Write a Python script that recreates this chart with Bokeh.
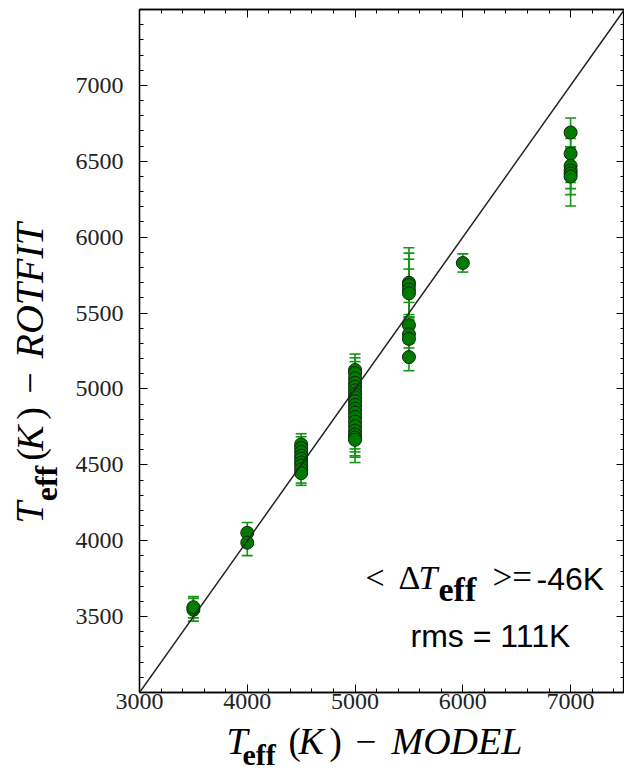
import math
from bokeh.plotting import figure
from bokeh.layouts import column, row
from bokeh.models import (ColumnDataSource, Whisker, TeeHead, Slope, Label,
                          FixedTicker, LinearAxis, Range1d)
from bokeh.embed import file_html
from bokeh.resources import INLINE

# ---------------- data ----------------
teff_model = [3500, 3500,
              4000, 4000,
              4500, 4500, 4500, 4500, 4500, 4500, 4500, 4500, 4500,
              5000, 5000, 5000, 5000, 5000, 5000, 5000, 5000, 5000, 5000,
              5000, 5000, 5000, 5000, 5000, 5000, 5000, 5000, 5000,
              5500, 5500, 5500, 5500, 5500, 5500, 5500, 5500,
              6000,
              7000, 7000, 7000, 7000, 7000, 7000]
teff_rotfit = [3545, 3562,
               4052, 3987,
               4635, 4610, 4585, 4560, 4540, 4515, 4495, 4470, 4445,
               5125, 5105, 5070, 5040, 5015, 4990, 4965, 4945, 4920, 4895,
               4870, 4845, 4815, 4785, 4755, 4725, 4700, 4680, 4665,
               5700, 5685, 5655, 5630, 5420, 5360, 5330, 5210,
               5830,
               6690, 6550, 6470, 6440, 6420, 6400]
teff_err = [75, 70,
            68, 85,
            70, 75, 70, 75, 70, 80, 70, 90, 80,
            105, 100, 110, 100, 120, 110, 120, 110, 130, 120,
            130, 120, 140, 130, 150, 140, 150, 120, 150,
            230, 210, 200, 160, 150, 130, 120, 90,
            60,
            95, 100, 110, 120, 140, 195]

x_major = [3000, 4000, 5000, 6000, 7000]
y_major = [3500, 4000, 4500, 5000, 5500, 6000, 6500, 7000]
x_minor = list(range(3000, 7501, 200))
y_minor = list(range(3000, 7501, 100))
x_lim = (3000, 7500)
y_lim = (3000, 7500)

# ---------------- layout (page pixels) ----------------
YLAB_W = 70          # width of the y-label strip
MAIN_W = 624 - YLAB_W
MAIN_H = 720
XLAB_H = 772 - MAIN_H
FRAME_L = 139        # frame left edge on the page
FRAME_T = 9
FRAME_B = 692        # frame bottom edge on the page

lower = [v - e for v, e in zip(teff_rotfit, teff_err)]
upper = [v + e for v, e in zip(teff_rotfit, teff_err)]
src = ColumnDataSource(dict(x=teff_model, y=teff_rotfit, lower=lower, upper=upper))

p = figure(width=MAIN_W, height=MAIN_H, output_backend="svg", toolbar_location=None,
           x_range=Range1d(*x_lim), y_range=Range1d(*y_lim),
           min_border_left=FRAME_L - YLAB_W, min_border_right=0,
           min_border_top=FRAME_T, min_border_bottom=MAIN_H - FRAME_B)
p.grid.visible = False
p.outline_line_color = "black"
p.outline_line_width = 1.3
p.background_fill_color = "white"
p.border_fill_color = "white"

xt = FixedTicker(ticks=x_major, minor_ticks=x_minor)
yt = FixedTicker(ticks=y_major, minor_ticks=y_minor)


def style_axis(ax, show_labels=True):
    ax.major_tick_in = 8
    ax.major_tick_out = 0
    ax.minor_tick_in = 4
    ax.minor_tick_out = 0
    ax.major_tick_line_color = "black"
    ax.minor_tick_line_color = "black"
    ax.axis_line_color = "black"
    ax.axis_line_width = 1.3
    if show_labels:
        ax.major_label_text_font = "Liberation Serif"
        ax.major_label_text_font_size = "24px"
        ax.major_label_text_color = "#222222"
    else:
        ax.major_label_standoff = 0
        ax.major_label_text_font_size = "0px"


p.xaxis.ticker = xt
p.yaxis.ticker = yt
style_axis(p.xaxis[0])
style_axis(p.yaxis[0])
p.xaxis.major_label_standoff = 1
p.yaxis.major_label_standoff = 16

top = LinearAxis(ticker=xt, major_label_overrides={t: "" for t in x_major})
right = LinearAxis(ticker=yt, major_label_overrides={t: "" for t in y_major})
style_axis(top, False)
style_axis(right, False)
p.add_layout(top, "above")
p.add_layout(right, "right")

whisk = Whisker(source=src, base="x", lower="lower", upper="upper",
                line_color="#159515", line_width=1.6,
                upper_head=TeeHead(size=11, line_color="#159515", line_width=1.6),
                lower_head=TeeHead(size=11, line_color="#159515", line_width=1.6))
p.add_layout(whisk)

p.scatter("x", "y", source=src, marker="circle", size=13,
          fill_color="#007a00", line_color="#0a2a0a", line_width=1)

p.add_layout(Slope(gradient=1, y_intercept=0, line_color="#222222", line_width=1.5))


def blank_fig(w, h):
    f = figure(width=w, height=h, output_backend="svg", toolbar_location=None,
               x_axis_type=None, y_axis_type=None, min_border=0,
               x_range=Range1d(0, 1), y_range=Range1d(0, 1), title=None)
    f.outline_line_color = None
    f.grid.visible = False
    f.background_fill_color = "white"
    f.border_fill_color = "white"
    return f


ylab = blank_fig(YLAB_W, MAIN_H)
xlab = blank_fig(624, XLAB_H)


def piece(fig, left, bottom, text, xw, yw, size, font="Liberation Serif",
          style="normal", rotated=False):
    """xw, yw: wanted page position of the text's baseline start."""
    if rotated:
        xw = xw - 0.4 * size
        yw = yw + 0.9 * size
        angle = math.pi / 2
    else:
        yw = yw - 0.37 * size
        angle = 0.0
    fig.add_layout(Label(x=xw - left, y=bottom - yw, x_units="screen",
                         y_units="screen", text=text, text_font=font,
                         text_font_size=f"{size}px", text_font_style=style,
                         angle=angle, text_baseline="alphabetic",
                         text_align="left", text_color="black"))


# x axis label: T_eff(K) - MODEL  (xlab fig spans page y MAIN_H..772)
XB = 772
bx = 755
piece(xlab, 0, XB, "T", 226, bx, 38, style="italic")
piece(xlab, 0, XB, "eff", 242, bx + 10, 30, style="bold")
piece(xlab, 0, XB, "(", 288, bx, 37)
piece(xlab, 0, XB, "K", 298, bx, 38, style="italic")
piece(xlab, 0, XB, ")", 329, bx, 37)
piece(xlab, 0, XB, "\u2212", 355, bx, 37)
piece(xlab, 0, XB, "MODEL", 391, bx, 38, style="italic")

# y axis label (rotated), ylab fig spans page x 0..YLAB_W, y 0..MAIN_H
by = 45
piece(ylab, 0, MAIN_H, "T", by, 516, 39, style="italic", rotated=True)
piece(ylab, 0, MAIN_H, "eff", by + 13, 500, 32, style="bold", rotated=True)
piece(ylab, 0, MAIN_H, "(", by, 454, 38, rotated=True)
piece(ylab, 0, MAIN_H, "K", by, 444, 38, style="italic", rotated=True)
piece(ylab, 0, MAIN_H, ")", by, 413, 38, rotated=True)
piece(ylab, 0, MAIN_H, "\u2212", by, 387, 38, rotated=True)
piece(ylab, 0, MAIN_H, "ROTFIT", by, 350, 40, style="italic", rotated=True)

# statistics text inside the frame
b1 = 590
piece(p, FRAME_L, FRAME_B, "<", 365, b1, 34)
piece(p, FRAME_L, FRAME_B, "\u0394", 398, b1, 34)
piece(p, FRAME_L, FRAME_B, "T", 418, b1, 34, style="italic")
piece(p, FRAME_L, FRAME_B, "eff", 438, b1 + 12, 34, style="bold")
piece(p, FRAME_L, FRAME_B, ">=", 492, b1, 35)
piece(p, FRAME_L, FRAME_B, "-46K", 536, b1, 32, font="Liberation Sans")
piece(p, FRAME_L, FRAME_B, "rms = 111K", 410, 647, 32, font="Liberation Sans")

layout = column(row(ylab, p, spacing=0), xlab, spacing=0)

open("out.html", "w").write(file_html(layout, INLINE))
